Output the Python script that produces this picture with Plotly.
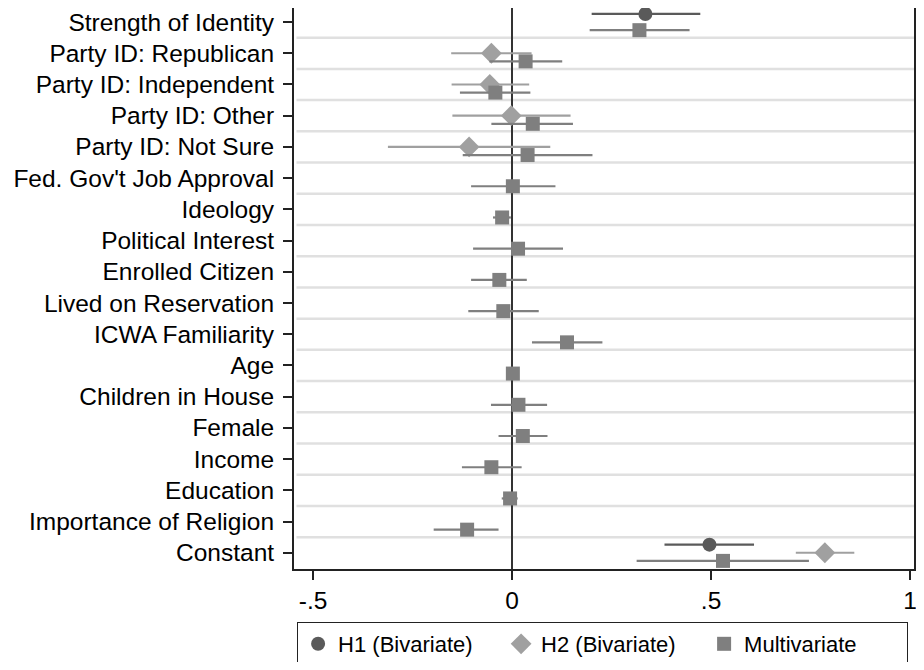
import plotly.graph_objects as go

categories = ["Strength of Identity", "Party ID: Republican", "Party ID: Independent",
              "Party ID: Other", "Party ID: Not Sure", "Fed. Gov't Job Approval",
              "Ideology", "Political Interest", "Enrolled Citizen", "Lived on Reservation",
              "ICWA Familiarity", "Age", "Children in House", "Female", "Income",
              "Education", "Importance of Religion", "Constant"]

h1_vars = ["Strength of Identity", "Constant"]
h1_coef = [0.335, 0.496]
h1_lo = [0.200, 0.383]
h1_hi = [0.473, 0.608]

h2_vars = ["Party ID: Republican", "Party ID: Independent", "Party ID: Other",
           "Party ID: Not Sure", "Constant"]
h2_coef = [-0.052, -0.056, -0.002, -0.108, 0.786]
h2_lo = [-0.153, -0.152, -0.150, -0.312, 0.713]
h2_hi = [0.049, 0.043, 0.147, 0.096, 0.860]

mv_vars = categories
mv_coef = [0.320, 0.034, -0.042, 0.052, 0.039, 0.002, -0.025, 0.015, -0.032, -0.022,
           0.138, 0.002, 0.016, 0.027, -0.052, -0.005, -0.113, 0.530]
mv_lo = [0.195, -0.057, -0.131, -0.052, -0.124, -0.103, -0.048, -0.098, -0.103, -0.110,
         0.050, -0.002, -0.053, -0.034, -0.126, -0.026, -0.197, 0.313]
mv_hi = [0.446, 0.126, 0.046, 0.153, 0.202, 0.109, -0.003, 0.128, 0.037, 0.067,
         0.227, 0.006, 0.088, 0.089, 0.024, 0.014, -0.034, 0.746]

x_tickvals = [-0.5, 0, 0.5, 1]
x_ticktext = ["-.5", "0", ".5", "1"]

FONT = "Liberation Sans, Arial, Helvetica, sans-serif"
pos = {c: i for i, c in enumerate(categories)}

series = [
    ("H1 (Bivariate)", h1_vars, h1_coef, h1_lo, h1_hi, -0.26, "circle", 14, "#5a5a5a"),
    ("H2 (Bivariate)", h2_vars, h2_coef, h2_lo, h2_hi, 0.0, "diamond", 16, "#a0a0a0"),
    ("Multivariate", mv_vars, mv_coef, mv_lo, mv_hi, 0.26, "square", 14, "#7f7f7f"),
]

fig = go.Figure()
for name, vars_, coef, lo, hi, off, sym, size, col in series:
    fig.add_trace(go.Scatter(
        x=coef,
        y=[pos[v] + off for v in vars_],
        mode="markers",
        name=name,
        marker=dict(symbol=sym, size=size, color=col, line=dict(width=0)),
        error_x=dict(type="data", symmetric=False,
                     array=[h - c for h, c in zip(hi, coef)],
                     arrayminus=[c - l for c, l in zip(coef, lo)],
                     color=col, thickness=2.2, width=0),
    ))

shapes = []
for k in range(len(categories) - 1):
    shapes.append(dict(type="line", xref="paper", x0=0.004, x1=1, yref="y",
                       y0=k + 0.5, y1=k + 0.5, line=dict(color="#e0e0e0", width=2.5),
                       layer="below"))

# page body has an 8px default margin, so the figure is sized to fit the window
fig.update_layout(
    width=908, height=654,
    margin=dict(l=286, r=2, t=0, b=93, autoexpand=False),
    paper_bgcolor="white", plot_bgcolor="white",
    font=dict(family=FONT, size=24.5, color="black"),
    shapes=shapes,
    showlegend=True,
    legend=dict(orientation="h", x=0.005, xanchor="left", y=-0.0945, yanchor="top",
                bordercolor="#222", borderwidth=1, bgcolor="white",
                font=dict(family=FONT, size=22, color="black"),
                itemwidth=30, entrywidth=158),
)
fig.update_xaxes(range=[-0.548, 1.010], tickvals=x_tickvals, ticktext=x_ticktext,
                 showgrid=False, zeroline=True, zerolinecolor="#333", zerolinewidth=2,
                 showline=True, linecolor="#222", linewidth=2, mirror=True,
                 ticks="outside", ticklen=9, tickwidth=1.5, tickcolor="#222",
                 ticklabeloverflow="allow")
fig.update_yaxes(range=[17.52, -0.45], tickvals=list(range(len(categories))),
                 ticktext=categories, showgrid=False, zeroline=False,
                 showline=True, linecolor="#222", linewidth=2, mirror=True,
                 ticks="outside", ticklen=9, tickwidth=1.5, tickcolor="#222",
                 ticklabelstandoff=4)

fig.write_html("out.html")
